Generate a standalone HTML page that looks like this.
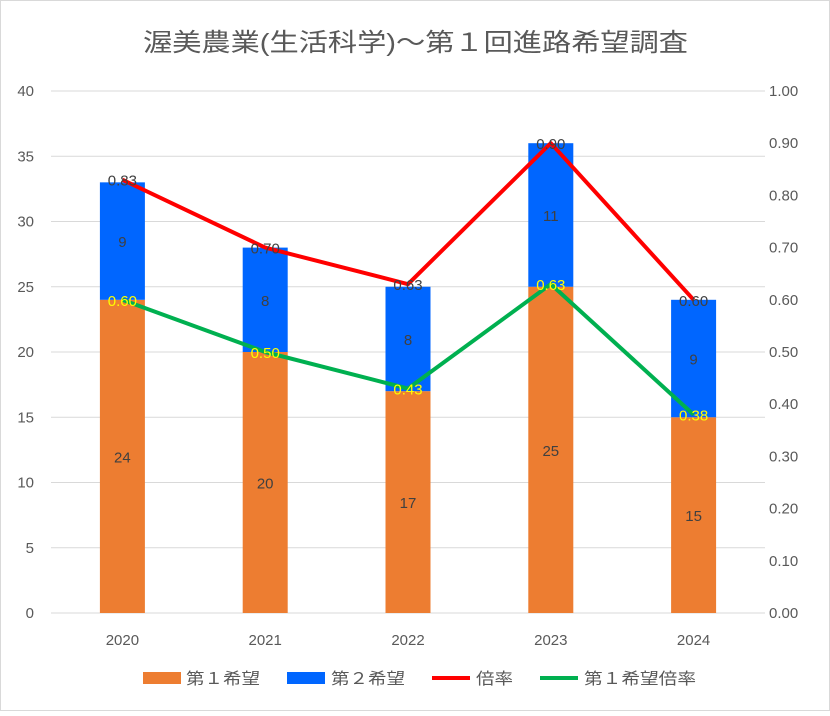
<!DOCTYPE html>
<html><head><meta charset="utf-8"><style>
body{margin:0;background:#fff;}
svg text{font-family:"Liberation Sans","Noto Sans CJK JP",sans-serif;}
</style></head><body>
<svg id="chart" width="830" height="711" xmlns="http://www.w3.org/2000/svg">
<rect x="0.5" y="0.5" width="829" height="710" fill="#fff" stroke="#d9d9d9"/>
<text x="143" y="51" font-size="25" textLength="545" lengthAdjust="spacingAndGlyphs" fill="#595959">渥美農業(生活科学)～第１回進路希望調査</text>
<g id="grid"></g><g id="bars"></g><g id="lines"></g><g id="labels"></g><g id="axes"></g>
<g>
<rect x="143" y="672" width="38" height="12" fill="#ED7D31"/>
<text x="186" y="684" font-size="16" textLength="74" lengthAdjust="spacingAndGlyphs" fill="#595959">第１希望</text>
<rect x="287" y="672" width="38" height="12" fill="#0066FF"/>
<text x="331" y="684" font-size="16" textLength="74" lengthAdjust="spacingAndGlyphs" fill="#595959">第２希望</text>
<line x1="432" y1="678" x2="470" y2="678" stroke="#FF0000" stroke-width="4"/>
<text x="476" y="684" font-size="16" textLength="37" lengthAdjust="spacingAndGlyphs" fill="#595959">倍率</text>
<line x1="540" y1="678" x2="578" y2="678" stroke="#00B050" stroke-width="4"/>
<text x="584" y="684" font-size="16" textLength="112" lengthAdjust="spacingAndGlyphs" fill="#595959">第１希望倍率</text>
</g>
</svg>
<script>
const categories=["2020","2021","2022","2023","2024"];
const firstChoice=[24,20,17,25,15];
const secondChoice=[9,8,8,11,9];
const ratio=[0.83,0.70,0.63,0.90,0.60];
const firstRatio=[0.60,0.50,0.43,0.63,0.38];
const leftTicks=[0,5,10,15,20,25,30,35,40];
const rightTicks=["0.00","0.10","0.20","0.30","0.40","0.50","0.60","0.70","0.80","0.90","1.00"];
const NS="http://www.w3.org/2000/svg";
const X0=51,X1=765,Y0=613,Y1=91;
const yL=v=>Y0-(v/40)*(Y0-Y1);
const yR=v=>Y0-(v/1)*(Y0-Y1);
const band=(X1-X0)/categories.length;
const xC=i=>X0+band*(i+0.5);
function mk(tag,attrs,parent,txt){const e=document.createElementNS(NS,tag);for(const k in attrs)e.setAttribute(k,attrs[k]);if(txt!==undefined)e.textContent=txt;document.getElementById(parent).appendChild(e);return e;}
leftTicks.forEach(t=>{
 const l=mk("line",{x1:X0,x2:X1,y1:yL(t),y2:yL(t),stroke:"#d9d9d9","stroke-width":1},"grid");
 
 
 const tx=mk("text",{x:34,y:yL(t)+5,"text-anchor":"end","font-size":15,fill:"#595959"},"axes",t);
 
 
});
rightTicks.forEach(t=>{
 const tx=mk("text",{x:769,y:yR(parseFloat(t))+5,"font-size":15,fill:"#595959"},"axes",t);
 
 
});
const W=45;
categories.forEach((c,i)=>{
 const x=xC(i);
 const b1=mk("rect",{x:x-W/2,y:yL(firstChoice[i]),width:W,height:Y0-yL(firstChoice[i]),fill:"#ED7D31"},"bars");
 
 
 const top=firstChoice[i]+secondChoice[i];
 const b2=mk("rect",{x:x-W/2,y:yL(top),width:W,height:yL(firstChoice[i])-yL(top),fill:"#0066FF"},"bars");
 
 
 const t1=mk("text",{x:x,y:(yL(firstChoice[i])+Y0)/2+6,"text-anchor":"middle","font-size":15,fill:"#404040"},"labels",firstChoice[i]);
 
 
 const t2=mk("text",{x:x,y:(yL(firstChoice[i])+yL(top))/2+6,"text-anchor":"middle","font-size":15,fill:"#404040"},"labels",secondChoice[i]);
 
 
 const cx=mk("text",{x:x,y:645,"text-anchor":"middle","font-size":15,fill:"#595959"},"axes",c);
 
 
 const r=mk("text",{x:x,y:yR(ratio[i])+6,"text-anchor":"middle","font-size":15,fill:"#404040"},"labels",ratio[i].toFixed(2));
 
 
 const f=mk("text",{x:x,y:yR(firstRatio[i])+6,"text-anchor":"middle","font-size":15,fill:"#FFFF00"},"labels",firstRatio[i].toFixed(2));
 
 
});
const p1=mk("polyline",{points:ratio.map((v,i)=>xC(i)+","+yR(v)).join(" "),fill:"none",stroke:"#FF0000","stroke-width":4,"stroke-linejoin":"round"},"lines");


const p2=mk("polyline",{points:firstRatio.map((v,i)=>xC(i)+","+yR(v)).join(" "),fill:"none",stroke:"#00B050","stroke-width":4,"stroke-linejoin":"round"},"lines");


</script>
</body></html>
